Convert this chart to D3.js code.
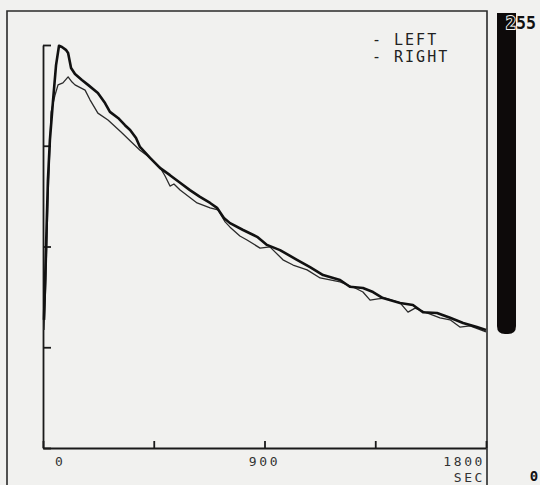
<!DOCTYPE html>
<html>
<head>
<meta charset="utf-8">
<script src="https://cdn.jsdelivr.net/npm/d3@7"></script>
<style>
  body { margin: 0; background: #f1f1ef; }
  svg { display: block; }
</style>
</head>
<body>
<div id="graph"></div>
<script>
// time in seconds, counts in % of peak
const rightTime = [4, 12, 20, 28, 41, 53, 65, 77, 93, 102, 114, 130, 158, 183, 223, 252, 272, 305, 333, 354, 378, 394, 435, 475, 516, 557, 597, 638, 679, 707, 735, 760, 813, 870, 910, 963, 1032, 1085, 1138, 1207, 1247, 1300, 1341, 1381, 1451, 1503, 1544, 1601, 1654, 1707, 1763, 1800];
const rightVals = [31.8, 49.1, 66.5, 76.4, 86.4, 95.0, 99.8, 99.5, 98.8, 98.0, 94.3, 92.8, 91.3, 90.1, 88.1, 85.6, 83.4, 81.9, 80.1, 78.9, 76.9, 74.7, 72.0, 69.5, 67.7, 65.8, 64.0, 62.3, 60.8, 59.6, 57.1, 55.8, 54.1, 52.4, 50.4, 49.1, 46.7, 44.9, 42.9, 41.7, 40.0, 39.7, 38.7, 37.2, 36.0, 35.5, 33.7, 33.5, 32.3, 31.0, 30.0, 29.3];

const leftTime = [4, 12, 20, 33, 49, 61, 81, 102, 118, 130, 171, 191, 223, 264, 317, 358, 394, 435, 475, 496, 516, 532, 557, 626, 679, 711, 740, 760, 800, 829, 882, 922, 975, 1016, 1073, 1126, 1207, 1268, 1300, 1329, 1361, 1390, 1451, 1483, 1512, 1552, 1613, 1654, 1694, 1735, 1800];
const leftVals = [29.3, 41.7, 61.5, 83.4, 87.6, 90.1, 90.6, 92.1, 90.8, 90.1, 88.8, 86.4, 83.1, 81.4, 78.4, 76.0, 73.9, 72.0, 69.7, 67.5, 65.0, 65.5, 64.0, 60.8, 59.6, 59.1, 56.1, 54.8, 52.6, 51.6, 49.6, 49.9, 46.7, 45.4, 44.2, 42.2, 41.2, 39.7, 38.7, 36.7, 37.0, 37.2, 36.0, 33.7, 34.7, 33.7, 32.3, 31.8, 30.0, 30.3, 28.8];

const xTicks = [0, 450, 900, 1350, 1800];
const xLabels = ["0", "900", "1800"];
const yTicks = [0, 25, 50, 75, 100];
const legendNames = ["LEFT", "RIGHT"];
const barRange = [0, 255];

const width = 540, height = 485;
const mono = "'DejaVu Sans Mono', 'Liberation Mono', monospace";
const ink = "#1a1a1a";

const svg = d3.select('#graph')
  .append("svg")
  .attr("width", width).attr("height", height)
  .style("background", "#f1f1ef");

const xScale = d3.scaleLinear().domain([0, 1800]).range([43, 486]);
const yScale = d3.scaleLinear().domain([0, 100]).range([448, 45]);

// outer frame (open at the bottom)
svg.append("path")
  .attr("d", `M7,485 V11 H487 V485`)
  .attr("fill", "none")
  .attr("stroke", "#2a2a2a")
  .attr("stroke-width", 1.6);

// axes
const xAxis = d3.axisBottom(xScale)
  .tickValues(xTicks)
  .tickSize(-7)
  .tickSizeOuter(0)
  .tickFormat("");
const yAxis = d3.axisLeft(yScale)
  .tickValues(yTicks)
  .tickSize(-8)
  .tickSizeOuter(0)
  .tickFormat("");

const gx = svg.append("g").attr("transform", `translate(0,${yScale(0)})`).call(xAxis);
const gy = svg.append("g").attr("transform", `translate(${xScale(0)},0)`).call(yAxis);
[gx, gy].forEach(g => {
  g.selectAll("path, line").attr("stroke", ink).attr("stroke-width", 1.8);
});

// x labels
function axisText(x, y, anchor, txt) {
  svg.append("text")
    .attr("x", x).attr("y", y)
    .attr("text-anchor", anchor)
    .attr("font-family", mono).attr("font-size", 13).attr("letter-spacing", 2.6)
    .attr("fill", "#333").text(txt);
}
axisText(xScale(0) + 12, 466, "start", xLabels[0]);
axisText(xScale(900), 466, "middle", xLabels[1]);
axisText(xScale(1800) - 1, 466, "end", xLabels[2]);
axisText(xScale(1800) - 1, 482, "end", "SEC");

// curves
const line = d3.line()
  .x(d => xScale(d[0]))
  .y(d => yScale(d[1]));

svg.append("path")
  .datum(leftTime.map((t, i) => [t, leftVals[i]]))
  .attr("d", line)
  .attr("fill", "none")
  .attr("stroke", "#2b2b2b")
  .attr("stroke-width", 1.3)
  .attr("stroke-linejoin", "round");

svg.append("path")
  .datum(rightTime.map((t, i) => [t, rightVals[i]]))
  .attr("d", line)
  .attr("fill", "none")
  .attr("stroke", "#111")
  .attr("stroke-width", 2.6)
  .attr("stroke-linejoin", "round");

// legend
legendNames.forEach((name, i) => {
  svg.append("text")
    .attr("x", 372).attr("y", 45 + i * 17)
    .attr("font-family", mono).attr("font-size", 15).attr("letter-spacing", 2)
    .attr("fill", "#222")
    .style("white-space", "pre")
    .text("- " + name);
});

// colour bar
const barScale = d3.scaleLinear().domain(barRange).range([334, 13]);
const bx0 = 497, bx1 = 516, r = 8;
svg.append("path")
  .attr("d", `M${bx0},${barScale(255)} H${bx1} V${barScale(0) - r} Q${bx1},${barScale(0)} ${bx1 - r},${barScale(0)} H${bx0 + r} Q${bx0},${barScale(0)} ${bx0},${barScale(0) - r} Z`)
  .attr("fill", "#0d0a0a");

svg.append("text")
  .attr("x", 506).attr("y", 29)
  .attr("font-family", mono).attr("font-size", 18).attr("font-weight", "bold")
  .attr("textLength", 30).attr("lengthAdjust", "spacingAndGlyphs")
  .attr("fill", "#111")
  .attr("stroke", "#f1f1ef").attr("stroke-width", 2).attr("paint-order", "stroke")
  .text(String(barRange[1]));

svg.append("text")
  .attr("x", 534).attr("y", 481)
  .attr("text-anchor", "middle")
  .attr("font-family", mono).attr("font-size", 14).attr("font-weight", "bold")
  .attr("fill", "#111")
  .text(String(barRange[0]));
</script>
</body>
</html>
